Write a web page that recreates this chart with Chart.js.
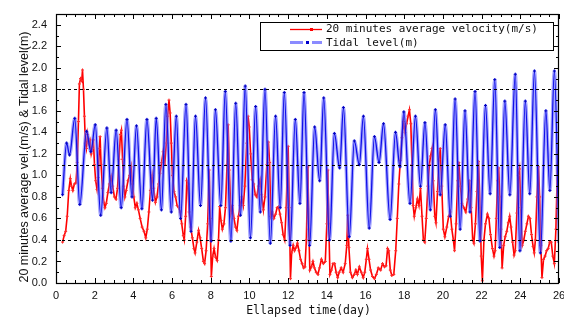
<!DOCTYPE html>
<html>
<head>
<meta charset="utf-8">
<script src="https://cdn.jsdelivr.net/npm/chart.js@4.4.0/dist/chart.umd.min.js"></script>
<style>
  html, body { margin: 0; padding: 0; background: #fff; }
  #wrap { width: 564px; height: 320px; }
</style>
</head>
<body>
<div id="wrap"><canvas id="chart" width="564" height="320"></canvas></div>
<script>
// 20 minutes average velocity (m/s)
const velDay = [0.34,0.42,0.50,0.58,0.66,0.74,0.80,0.87,0.95,1.03,1.10,1.16,1.21,1.27,1.33,1.37,1.42,1.47,1.52,1.57,1.63,1.69,1.75,1.82,1.88,1.93,1.99,
  2.05,2.12,2.18,2.24,2.28,2.33,2.40,2.47,2.53,2.60,2.68,2.76,2.85,2.93,3.02,3.10,3.18,3.26,3.33,3.38,3.44,3.50,3.56,3.63,3.72,3.80,3.88,3.95,
  4.02,4.10,4.18,4.26,4.35,4.45,4.55,4.64,4.72,4.80,4.88,4.97,5.05,5.14,5.22,5.30,5.38,5.46,5.54,5.62,5.70,5.77,5.84,5.90,5.96,
  6.02,6.10,6.18,6.26,6.34,6.42,6.50,6.58,6.63,6.70,6.76,6.82,6.88,6.96,7.05,7.13,7.19,7.28,7.37,7.45,7.53,7.62,7.68,7.76,7.84,7.92,7.97,
  8.03,8.10,8.17,8.25,8.33,8.40,8.46,8.53,8.60,8.68,8.76,8.84,8.90,8.96,9.04,9.12,9.20,9.28,9.35,9.43,9.52,9.60,9.68,9.76,9.86,9.93,9.99,
  10.06,10.14,10.22,10.30,10.38,10.46,10.55,10.63,10.72,10.80,10.90,10.98,11.04,11.10,11.18,11.26,11.35,11.43,11.50,11.58,11.66,11.74,11.82,11.90,11.96,
  12.00,12.06,12.12,12.18,12.26,12.33,12.41,12.48,12.56,12.64,12.72,12.80,12.87,12.94,13.02,13.07,13.12,13.20,13.28,13.36,13.45,13.54,13.62,13.72,13.82,13.92,
  14.00,14.05,14.10,14.16,14.24,14.32,14.40,14.48,14.56,14.64,14.74,14.84,14.95,15.03,15.08,15.14,15.22,15.32,15.42,15.50,15.58,15.68,15.78,15.88,15.96,
  16.04,16.10,16.18,16.26,16.36,16.46,16.56,16.66,16.78,16.88,16.98,17.06,17.14,17.20,17.28,17.36,17.46,17.56,17.64,17.72,17.80,17.88,17.96,
  18.04,18.12,18.20,18.27,18.34,18.40,18.46,18.52,18.60,18.68,18.76,18.84,18.92,18.99,19.06,19.14,19.22,19.30,19.36,19.44,19.50,19.58,19.64,19.72,19.80,19.86,19.94,
  20.02,20.10,20.20,20.30,20.38,20.46,20.54,20.60,20.68,20.76,20.82,20.90,20.98,21.08,21.18,21.28,21.38,21.46,21.54,21.60,21.68,21.76,21.84,21.92,21.98,
  22.04,22.12,22.20,22.30,22.38,22.46,22.56,22.64,22.70,22.76,22.82,22.88,22.94,23.00,23.06,23.14,23.22,23.30,23.38,23.45,23.52,23.60,23.68,23.74,23.82,23.90,23.96,
  24.02,24.10,24.18,24.26,24.34,24.42,24.50,24.58,24.66,24.72,24.78,24.86,24.94,25.00,25.06,25.12,25.20,25.28,25.36,25.44,25.52,25.60,25.68,25.76,25.84,25.92,26.00];
const velVal = [0.38,0.44,0.48,0.62,0.86,0.97,0.90,0.86,0.92,0.93,1.12,1.50,1.85,1.90,1.88,1.98,1.80,1.55,1.30,1.25,1.38,1.30,1.33,1.20,1.25,1.33,1.10,
  0.95,0.87,0.98,1.25,1.36,1.10,0.88,0.75,0.70,0.74,0.84,0.92,0.99,0.90,0.80,0.78,0.88,1.15,1.38,1.42,1.15,0.90,0.80,0.86,0.95,1.00,1.08,0.92,
  0.80,0.70,0.74,0.68,0.60,0.52,0.48,0.42,0.50,0.66,0.86,1.00,0.88,0.75,0.80,0.92,1.02,1.12,1.22,1.10,1.30,1.55,1.70,1.58,1.30,
  1.00,0.85,0.80,0.72,0.70,0.66,0.55,0.44,0.40,0.62,0.95,0.92,0.66,0.52,0.42,0.32,0.28,0.38,0.49,0.42,0.32,0.20,0.18,0.30,0.55,1.05,0.60,
  0.06,0.25,0.32,0.24,0.21,0.40,0.71,0.58,0.50,0.55,0.70,1.10,1.47,1.05,0.65,0.72,0.60,0.52,0.49,0.62,0.72,0.80,0.72,0.90,1.30,1.55,1.45,
  1.20,0.96,0.92,0.82,0.80,0.90,0.96,0.82,0.68,0.80,1.10,1.31,1.12,0.62,0.66,0.60,0.64,0.70,0.71,0.64,0.56,0.45,0.40,0.70,1.10,
  1.27,0.70,0.04,0.28,0.35,0.30,0.33,0.37,0.30,0.22,0.18,0.14,0.15,0.40,1.08,0.50,0.12,0.15,0.20,0.14,0.10,0.08,0.14,0.22,0.18,0.20,
  0.55,1.05,0.55,0.08,0.12,0.18,0.18,0.10,0.05,0.10,0.14,0.10,0.18,0.35,0.63,0.33,0.10,0.05,0.08,0.12,0.08,0.15,0.10,0.05,0.10,
  0.22,0.32,0.22,0.12,0.06,0.04,0.08,0.14,0.12,0.18,0.15,0.16,0.32,0.30,0.12,0.07,0.08,0.30,0.60,0.92,1.14,1.35,1.50,
  1.40,1.48,1.55,1.61,1.48,1.10,0.72,0.62,0.70,0.78,0.72,0.88,0.62,0.40,0.38,0.60,0.90,1.10,1.18,1.25,0.95,0.62,0.56,0.85,1.15,1.25,0.90,
  0.50,0.43,0.52,0.62,0.66,0.50,0.40,0.30,0.55,0.95,1.12,0.90,0.74,0.70,0.66,0.78,0.95,0.70,0.40,0.37,0.55,0.85,1.13,0.70,0.25,
  0.02,0.40,0.55,0.64,0.60,0.45,0.32,0.25,0.30,0.60,0.95,1.07,0.80,0.50,0.14,0.35,0.43,0.48,0.56,0.62,0.52,0.38,0.26,0.30,0.65,1.00,1.06,
  0.70,0.35,0.40,0.48,0.55,0.62,0.60,0.45,0.34,0.28,0.40,0.80,1.08,0.80,0.35,0.05,0.22,0.25,0.30,0.32,0.38,0.38,0.25,0.18,0.50,1.10,1.30];

// Tidal level (m): highs and lows
const tideDay = [0.34,0.55,0.70,0.97,1.23,1.58,1.80,2.03,2.31,2.63,2.85,3.11,3.37,3.67,3.93,4.16,4.44,4.70,4.99,5.18,5.45,5.68,5.96,6.22,6.44,6.72,6.98,
  7.21,7.47,7.73,8.02,8.24,8.52,8.75,9.04,9.29,9.54,9.78,10.05,10.32,10.56,10.80,11.08,11.35,11.59,11.80,12.10,12.37,12.61,12.82,13.11,13.37,13.63,13.84,
  14.14,14.39,14.66,14.86,15.16,15.42,15.68,15.89,16.19,16.46,16.70,16.93,17.27,17.55,17.78,17.98,18.30,18.58,18.84,19.07,19.35,19.61,19.86,
  20.12,20.38,20.63,20.89,21.14,21.40,21.66,21.92,22.20,22.44,22.68,22.94,23.20,23.46,23.74,23.98,24.26,24.49,24.73,25.04,25.32,25.53,25.76,26.00];
const tideVal = [0.82,1.30,1.19,1.53,0.73,1.41,1.22,1.47,0.63,1.44,0.84,1.42,0.70,1.52,0.80,1.46,0.69,1.52,0.77,1.53,0.68,1.66,0.66,1.55,0.60,1.66,0.48,
  1.55,0.72,1.72,0.39,1.61,0.72,1.78,0.39,1.67,0.63,1.83,0.42,1.64,0.66,1.80,0.37,1.55,0.70,1.77,0.35,1.52,0.74,1.77,0.35,1.45,0.95,1.72,
  0.40,1.39,1.07,1.63,0.43,1.32,1.10,1.55,0.51,1.36,1.12,1.48,0.59,1.40,1.08,1.59,0.74,1.55,0.90,1.49,0.68,1.61,0.82,
  1.47,0.62,1.71,0.50,1.60,0.66,1.78,0.39,1.65,0.83,1.89,0.33,1.69,0.82,1.94,0.30,1.69,0.83,1.97,0.28,1.60,0.86,1.97,0.38];

const seriesNames = ["20 minutes average velocity(m/s)", "Tidal level(m)"];
const xTicks = [0,2,4,6,8,10,12,14,16,18,20,22,24,26];
const yTicks = [0.0,0.2,0.4,0.6,0.8,1.0,1.2,1.4,1.6,1.8,2.0,2.2,2.4];
const refLevels = [0.4, 1.1, 1.8];
const xTitle = "Ellapsed time(day)";
const yTitle = "20 minutes average vel.(m/s) & Tidal level(m)";

const velPts = velDay.map((d, i) => ({ x: d, y: velVal[i] }));
const tidePts = tideDay.map((d, i) => ({ x: d, y: tideVal[i] }));

// frame, inward ticks, labels, dashed reference lines and legend
const framePlugin = {
  id: "frame",
  afterDatasetsDraw(chart) {
    const { ctx, chartArea: a, scales } = chart;
    const xs = scales.x, ys = scales.y;
    ctx.save();
    ctx.strokeStyle = "#000";
    ctx.lineWidth = 1;

    // dashed reference lines
    ctx.setLineDash([3, 3]);
    refLevels.forEach(v => {
      const y = Math.round(ys.getPixelForValue(v)) + 0.5;
      ctx.beginPath(); ctx.moveTo(a.left, y); ctx.lineTo(a.right, y); ctx.stroke();
    });
    ctx.setLineDash([]);

    // box
    ctx.lineWidth = 1.2;
    ctx.strokeRect(a.left + 0.5, a.top + 0.5, a.right - a.left - 1, a.bottom - a.top);

    // x ticks (minor every 0.5, major every 2), top and bottom
    ctx.lineWidth = 1;
    for (let i = 0; i <= 52; i++) {
      const v = i * 0.5;
      const len = (i % 4 === 0) ? 5 : 3;
      const x = Math.round(xs.getPixelForValue(v)) + 0.5;
      ctx.beginPath();
      ctx.moveTo(x, a.bottom); ctx.lineTo(x, a.bottom - len);
      ctx.moveTo(x, a.top); ctx.lineTo(x, a.top + len);
      ctx.stroke();
    }
    // y ticks (minor every 0.1, major every 0.2), left and right
    for (let i = 0; i <= 25; i++) {
      const v = i * 0.1;
      const len = (i % 2 === 0) ? 5 : 3;
      const y = Math.round(ys.getPixelForValue(v)) + 0.5;
      ctx.beginPath();
      ctx.moveTo(a.left, y); ctx.lineTo(a.left + len, y);
      ctx.moveTo(a.right, y); ctx.lineTo(a.right - len, y);
      ctx.stroke();
    }

    // tick labels
    ctx.fillStyle = "#111";
    ctx.font = "11px 'Liberation Sans', Arial, sans-serif";
    ctx.textAlign = "center"; ctx.textBaseline = "middle";
    xTicks.forEach(v => ctx.fillText(String(v), xs.getPixelForValue(v), a.bottom + 13));
    ctx.textAlign = "right";
    yTicks.forEach(v => ctx.fillText(v.toFixed(1), a.left - 9, ys.getPixelForValue(v)));

    // axis titles
    ctx.font = "11.5px 'DejaVu Sans Mono', monospace";
    ctx.textAlign = "center";
    ctx.fillText(xTitle, (a.left + a.right) / 2 + 1, 311);
    ctx.save();
    ctx.translate(25, 157);
    ctx.rotate(-Math.PI / 2);
    ctx.font = "12.5px 'Liberation Sans', Arial, sans-serif";
    ctx.fillText(yTitle, 0, 0);
    ctx.restore();

    // legend
    const lx = 260.5, ly = 22.5, lw = 293, lh = 28;
    ctx.fillStyle = "#fff";
    ctx.fillRect(lx, ly, lw, lh);
    ctx.strokeStyle = "#000";
    ctx.lineWidth = 1;
    ctx.strokeRect(lx, ly, lw, lh);
    // velocity sample
    ctx.strokeStyle = "#ff0000"; ctx.lineWidth = 1.3;
    ctx.beginPath(); ctx.moveTo(290, 29.5); ctx.lineTo(322, 29.5); ctx.stroke();
    ctx.fillStyle = "#ff0000"; ctx.fillRect(310, 28, 3, 3);
    // tidal sample
    ctx.strokeStyle = "rgba(100,100,255,0.75)"; ctx.lineWidth = 3;
    ctx.beginPath(); ctx.moveTo(290, 42.5); ctx.lineTo(303, 42.5);
    ctx.moveTo(312, 42.5); ctx.lineTo(322, 42.5); ctx.stroke();
    ctx.fillStyle = "#0000cc"; ctx.fillRect(306, 41, 3, 3);
    ctx.fillStyle = "#111";
    ctx.font = "11px 'DejaVu Sans Mono', monospace";
    ctx.textAlign = "left";
    ctx.fillText(chart.data.datasets[0].label, 326, 29.5);
    ctx.fillText(chart.data.datasets[2].label, 326, 43);
    ctx.restore();
  }
};

new Chart(document.getElementById("chart"), {
  type: "line",
  data: {
    datasets: [
      {
        label: seriesNames[0], data: velPts, order: 3,
        borderColor: "#ff0000", borderWidth: 1.6, tension: 0,
        pointRadius: 1.5, pointStyle: "cross", pointBorderColor: "#ff2a2a", pointBorderWidth: 1
      },
      {
        label: "", data: tidePts, order: 2,
        borderColor: "rgba(110,110,255,0.6)", borderWidth: 3.5,
        cubicInterpolationMode: "monotone", pointRadius: 0
      },
      {
        label: seriesNames[1], data: tidePts, order: 1,
        borderColor: "#1010e8", borderWidth: 1.3,
        cubicInterpolationMode: "monotone",
        pointRadius: 1.5, pointStyle: "cross", pointBorderColor: "#0000c0", pointBorderWidth: 1
      }
    ]
  },
  options: {
    responsive: false,
    animation: false,
    devicePixelRatio: 1,
    layout: { padding: { left: 56, right: 1, top: 14, bottom: 37 } },
    plugins: { legend: { display: false }, tooltip: { enabled: false } },
    scales: {
      x: { type: "linear", min: 0, max: 26, display: false },
      y: { type: "linear", min: 0, max: 2.5, display: false }
    }
  },
  plugins: [framePlugin]
});
</script>
</body>
</html>
